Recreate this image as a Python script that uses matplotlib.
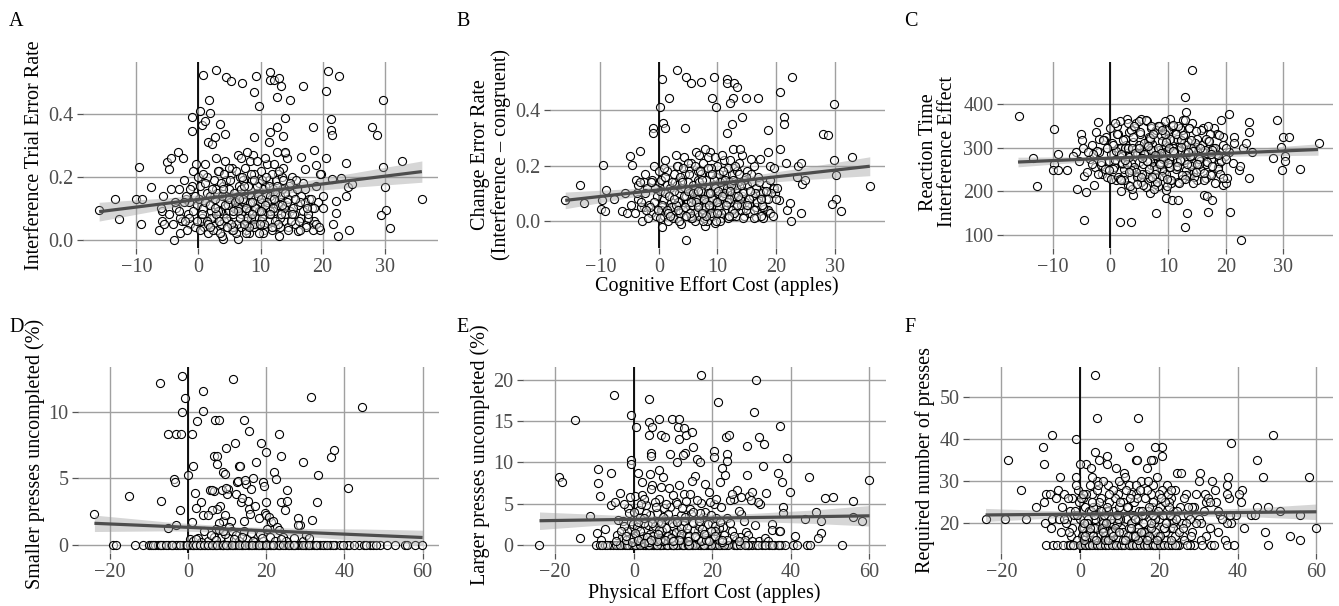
import numpy as np
import matplotlib
matplotlib.use("Agg")
import matplotlib.pyplot as plt

plt.rcParams['font.family'] = ['Liberation Serif', 'DejaVu Serif']
plt.rcParams['axes.unicode_minus'] = True

# ---------------- Panel A: interference trial error rate ----------------
a_x = [-16.0, -13.5, -12.8, -10.0, -9.6, -9.2, -9.1, -7.6, -6.4, -5.7,
       -5.1, -4.7, -4.4, -3.9, -1.1, -1.0, 0.75, 0.2, 0.6, 1.0,
       1.7, 1.9, 1.5, 2.2, 2.8, 3.5, 2.7, 4.3, 4.5, 5.2,
       7.0, 9.3, 8.9, 9.7, 8.9, 11.6, 11.5, 12.1, 13.0, 13.3,
       12.6, 12.6, 11.5, 11.3, 13.6, 14.0, 14.7, 16.8, 18.5, 18.6,
       20.8, 20.6, 21.4, 21.3, 21.5, 22.7, 28.0, 28.8, 29.7, 29.7,
       32.8, 30.1, 30.2, 29.4, 30.9, 36.0, 24.3, 22.5, 21.7, 22.2,
       22.1, 21.6, 23.8, 23.0, 24.1, 23.8, 24.7, 19.6, 13.0, 6.4,
       3.9, 16.5, 17.2, 19.0, 19.8, 20.5, 17.3, 18.5, 18.4, 16.0,
       -3.3, -2.5, -4.5, -5.8, -5.9, -6.0, -2.0, -1.5, -0.4, 13.9,
       -3.2, -2.6, -2.0, -1.4, -0.8, -0.3, 0.3, 0.9, 1.4, 2.0,
       2.5, 3.0, 3.4, 3.9, 4.3, 4.8, 5.2, 5.7, 6.1, 6.6,
       7.0, 7.5, 7.9, 8.4, 8.8, 9.3, 9.7, 10.2, 10.6, 11.1,
       11.5, 12.0, 12.4, 12.9, 13.3, 13.8, 14.2, 14.7, 15.1, 15.6,
       16.0, 16.5, 16.9, 17.4, 17.8, 18.3, 18.7, 19.2, 19.6, 20.1,
       -4.1, -3.6, -2.9, -2.3, -1.7, -1.1, -0.5, 0.1, 0.6, 1.1,
       1.7, 2.3, 2.8, 3.3, 3.8, 4.4, 4.9, 5.4, 6.0, 6.4,
       6.9, 7.3, 7.8, 8.2, 8.7, 9.1, 9.6, 10.0, 10.5, 10.9,
       11.4, 11.8, 12.3, 12.7, 13.2, 13.6, 14.1, 14.5, 15.0, 15.4,
       15.9, 16.3, 16.8, 17.2, 17.7, 18.1, 18.6, 19.0, 19.5, 20.0,
       0.2, 0.8, 1.3, 1.9, 2.4, 2.9, 3.5, 4.0, 4.6, 5.1,
       5.6, 6.2, 6.7, 7.2, 7.7, 8.3, 8.8, 9.4, 9.9, 10.4,
       10.8, 11.3, 11.7, 12.2, 12.6, 13.1, 13.5, 14.0, 14.4, 14.9,
       2.1, 3.2, 4.1, 5.0, 5.8, 6.8, 7.6, 8.5, 9.2, 10.1,
       1.0, 2.6, 3.6, 4.7, 5.5, 6.5, 7.4, 8.1, 9.0, 9.8,
       -5.5, -4.8, -3.0, -1.9, -0.9, 0.4, 1.6, 11.0, 12.8, 14.6,
       3.0, 4.5, 6.3, 7.1, 8.0, 8.9, 10.3, 11.6, 12.5, 13.4,
       5.4, 6.9, 7.9, 9.5, 10.7, 12.1, 13.9, 15.3, 16.6, 17.6]
a_y = [0.095, 0.13, 0.066, 0.13, 0.233, 0.05, 0.128, 0.167, 0.03, 0.14,
       0.247, 0.225, 0.26, 0.0, 0.39, 0.347, 0.525, 0.41, 0.367, 0.38,
       0.446, 0.405, 0.313, 0.305, 0.541, 0.37, 0.327, 0.337, 0.52, 0.505,
       0.50, 0.523, 0.472, 0.428, 0.327, 0.536, 0.51, 0.51, 0.517, 0.49,
       0.456, 0.36, 0.345, 0.313, 0.33, 0.387, 0.446, 0.49, 0.36, 0.286,
       0.537, 0.474, 0.384, 0.35, 0.334, 0.522, 0.36, 0.333, 0.446, 0.233,
       0.25, 0.167, 0.095, 0.079, 0.036, 0.129, 0.031, 0.012, 0.05, 0.084,
       0.124, 0.193, 0.244, 0.198, 0.169, 0.14, 0.177, 0.031, 0.012, 0.001,
       0.001, 0.265, 0.225, 0.237, 0.21, 0.26, 0.045, 0.05, 0.03, 0.027,
       0.28, 0.26, 0.16, 0.09, 0.06, 0.10, 0.13, 0.12, 0.24, 0.277,
       0.16, 0.06, 0.14, 0.05, 0.22, 0.11, 0.17, 0.04, 0.15, 0.09,
       0.19, 0.03, 0.12, 0.08, 0.25, 0.06, 0.21, 0.13, 0.02, 0.17,
       0.09, 0.23, 0.05, 0.14, 0.27, 0.07, 0.18, 0.11, 0.03, 0.24,
       0.08, 0.16, 0.04, 0.21, 0.12, 0.06, 0.26, 0.09, 0.15, 0.05,
       0.11, 0.07, 0.18, 0.04, 0.13, 0.10, 0.06, 0.12, 0.21, 0.14,
       0.05, 0.10, 0.02, 0.12, 0.08, 0.17, 0.04, 0.13, 0.07, 0.24,
       0.11, 0.05, 0.16, 0.22, 0.01, 0.14, 0.09, 0.03, 0.12, 0.27,
       0.04, 0.15, 0.11, 0.02, 0.19, 0.13, 0.05, 0.22, 0.08, 0.14,
       0.19, 0.03, 0.10, 0.15, 0.07, 0.23, 0.11, 0.04, 0.20, 0.08,
       0.16, 0.03, 0.09, 0.12, 0.07, 0.13, 0.10, 0.05, 0.04, 0.10,
       0.03, 0.10, 0.20, 0.14, 0.07, 0.26, 0.09, 0.17, 0.04, 0.12,
       0.08, 0.05, 0.20, 0.10, 0.03, 0.25, 0.09, 0.15, 0.12, 0.02,
       0.17, 0.06, 0.13, 0.09, 0.28, 0.04, 0.16, 0.08, 0.13, 0.06,
       0.07, 0.09, 0.06, 0.16, 0.10, 0.08, 0.06, 0.07, 0.10, 0.06,
       0.12, 0.13, 0.05, 0.11, 0.04, 0.11, 0.12, 0.09, 0.04, 0.09,
       0.05, 0.08, 0.07, 0.03, 0.09, 0.06, 0.02, 0.10, 0.11, 0.17,
       0.15, 0.19, 0.14, 0.19, 0.17, 0.21, 0.19, 0.14, 0.19, 0.20,
       0.23, 0.26, 0.28, 0.25, 0.26, 0.24, 0.28, 0.10, 0.14, 0.08]

# extra participants of the dense cognitive-cost cluster (shared by A, B, C)
cog_x_more = [0.5, 1.1, 1.8, 2.4, 3.1, 3.8, 4.4, 5.1, 5.8, 6.4,
              7.1, 7.8, 8.4, 9.1, 9.8, 10.4, 11.1, 11.8, 12.4, 13.1,
              13.8, 14.4, 15.1, 15.8, 16.4, -1.6, -2.4, -0.6, 0.0, 17.1,
              1.4, 2.2, 2.9, 3.6, 4.2, 4.9, 5.6, 6.3, 6.9, 7.6,
              8.3, 8.9, 9.6, 10.3, 10.9, 11.6, 12.3, 12.9, 13.6, 14.3,
              0.8, 1.6, 3.4, 4.1, 5.3, 6.1, 6.7, 7.4, 8.1, 8.7,
              9.4, 10.1, 10.6, 11.3, 12.0, 12.6, 13.3, 14.0, 15.5, 16.2,
              -3.8, -3.1, -2.2, -1.3, -0.2, 2.6, 5.0, 7.3, 9.9, 12.2,
              4.6, 5.9, 7.0, 8.6, 10.8, 11.9, 13.0, 14.8, 17.5, 18.9,
              1.9, 3.3, 4.0, 5.5, 6.6, 7.7, 9.0, 10.0, 11.5, 13.5]
a_y_more = [0.08, 0.18, 0.11, 0.03, 0.22, 0.14, 0.07, 0.19, 0.15, 0.10,
            0.13, 0.07, 0.21, 0.10, 0.02, 0.16, 0.12, 0.21, 0.06, 0.14,
            0.10, 0.03, 0.08, 0.19, 0.12, 0.07, 0.19, 0.14, 0.20, 0.16,
            0.06, 0.16, 0.08, 0.18, 0.11, 0.23, 0.03, 0.09, 0.16, 0.02,
            0.12, 0.05, 0.14, 0.07, 0.20, 0.09, 0.15, 0.05, 0.19, 0.12,
            0.21, 0.05, 0.02, 0.21, 0.05, 0.22, 0.07, 0.17, 0.04, 0.12,
            0.17, 0.13, 0.05, 0.17, 0.10, 0.17, 0.08, 0.15, 0.13, 0.06,
            0.12, 0.09, 0.06, 0.16, 0.06, 0.10, 0.13, 0.05, 0.05, 0.13,
            0.04, 0.12, 0.20, 0.08, 0.11, 0.04, 0.22, 0.18, 0.10, 0.17,
            0.04, 0.06, 0.16, 0.09, 0.13, 0.10, 0.19, 0.09, 0.08, 0.11]
b_y_more = [0.06, 0.16, 0.09, 0.01, 0.20, 0.12, 0.05, 0.17, 0.13, 0.08,
            0.11, 0.05, 0.19, 0.08, 0.00, 0.14, 0.10, 0.19, 0.04, 0.12,
            0.08, 0.01, 0.06, 0.17, 0.10, 0.05, 0.17, 0.12, 0.18, 0.14,
            0.04, 0.14, 0.06, 0.16, 0.09, 0.21, 0.01, 0.07, 0.14, 0.00,
            0.10, 0.03, 0.12, 0.05, 0.18, 0.07, 0.13, 0.03, 0.17, 0.10,
            0.19, 0.03, 0.00, 0.19, 0.03, 0.20, 0.05, 0.15, 0.02, 0.10,
            0.15, 0.11, 0.03, 0.15, 0.08, 0.15, 0.06, 0.13, 0.11, 0.04,
            0.10, 0.07, 0.04, 0.14, 0.04, 0.08, 0.11, 0.03, 0.03, 0.11,
            0.02, 0.10, 0.18, 0.06, 0.09, 0.02, 0.20, 0.16, 0.08, 0.15,
            0.02, 0.04, 0.14, 0.07, 0.11, 0.08, 0.17, 0.07, 0.06, 0.09]
c_y_more = [250, 330, 285, 225, 355, 300, 245, 335, 310, 270,
            295, 240, 350, 275, 212, 320, 290, 348, 238, 305,
            280, 220, 262, 340, 295, 268, 335, 300, 345, 315,
            232, 318, 262, 340, 288, 360, 215, 270, 322, 205,
            298, 236, 312, 255, 352, 266, 318, 228, 345, 292,
            355, 228, 212, 350, 232, 362, 250, 330, 222, 288,
            330, 300, 225, 332, 272, 328, 262, 318, 300, 242,
            290, 262, 240, 318, 248, 272, 298, 232, 228, 302,
            218, 286, 348, 262, 292, 220, 362, 338, 285, 328,
            226, 244, 324, 276, 304, 282, 340, 265, 258, 290]

# ---------------- Panel B: change error rate ----------------
b_x = [-16.0, -13.4, -12.8, -9.6, -9.9, -9.2, -9.1, -9.7, -7.6, -4.9,
       -4.6, -3.3, 0.5, 0.2, -1.0, -1.0, 0.7, 1.1, 1.8, 3.0,
       4.4, 4.7, 5.4, 7.1, 9.4, 9.1, 9.8, 11.6, 11.6, 12.9,
       13.4, 12.6, 12.1, 12.5, 11.6, 14.1, 14.8, 16.9, 18.6, 20.6,
       21.3, 21.3, 20.6, 22.7, 28.0, 28.9, 29.9, 29.9, 33.0, 30.3,
       30.3, 29.6, 31.1, 36.1, 24.3, 22.6, 21.9, 22.3, 4.7, 0.6,
       7.8, 9.6, 20.5, 23.7, 24.2, 23.5, 24.4, 24.9, 21.7, 19.0,
       18.7, 17.3, 16.3, 15.8, 17.8, 16.5, 17.0, 18.3, 19.4, 19.8,
       18.0, 18.4, 19.6, -5.8, -6.3, -4.0, -3.5, -2.5, -1.2, 0.0,
       -3.2, -2.6, -2.0, -1.4, -0.8, -0.3, 0.3, 0.9, 1.4, 2.0,
       2.5, 3.0, 3.4, 3.9, 4.3, 4.8, 5.2, 5.7, 6.1, 6.6,
       7.0, 7.5, 7.9, 8.4, 8.8, 9.3, 9.7, 10.2, 10.6, 11.1,
       11.5, 12.0, 12.4, 12.9, 13.3, 13.8, 14.2, 14.7, 15.1, 15.6,
       16.0, 16.5, 16.9, 17.4, 17.8, 18.3, 18.7, 19.2, 19.6, 20.1,
       -4.1, -3.6, -2.9, -2.3, -1.7, -1.1, -0.5, 0.1, 0.6, 1.1,
       1.7, 2.3, 2.8, 3.3, 3.8, 4.4, 4.9, 5.4, 6.0, 6.4,
       6.9, 7.3, 7.8, 8.2, 8.7, 9.1, 9.6, 10.0, 10.5, 10.9,
       11.4, 11.8, 12.3, 12.7, 13.2, 13.6, 14.1, 14.5, 15.0, 15.4,
       15.9, 16.3, 16.8, 17.2, 17.7, 18.3, 18.6, 19.0, 19.5, 20.0,
       0.2, 0.8, 1.3, 1.9, 2.4, 2.9, 3.5, 4.0, 4.6, 5.1,
       5.6, 6.2, 6.7, 7.2, 7.7, 8.3, 8.8, 9.4, 9.9, 10.4,
       10.8, 11.3, 11.7, 12.2, 12.6, 13.1, 13.5, 14.0, 14.4, 14.9,
       2.1, 3.2, 4.1, 5.0, 5.8, 6.8, 7.6, 8.5, 9.2, 10.1,
       1.0, 2.6, 3.6, 4.7, 5.5, 6.5, 7.4, 8.1, 9.0, 9.8,
       -5.5, -4.8, -3.0, -1.9, -0.9, 0.4, 1.6, 11.0, 12.8, 14.6,
       3.0, 4.5, 6.3, 7.1, 8.0, 8.9, 10.3, 11.6, 12.5, 13.4,
       5.4, 6.9, 7.9, 9.5, 10.7, 12.1, 13.9, 15.3, 16.6, 17.6]
b_y = [0.075, 0.131, 0.067, 0.203, 0.043, 0.035, 0.113, 0.075, 0.08, 0.234,
       0.203, 0.252, 0.513, 0.41, 0.334, 0.318, 0.352, 0.334, 0.445, 0.543,
       0.334, 0.519, 0.497, 0.501, 0.519, 0.443, 0.413, 0.511, 0.499, 0.499,
       0.485, 0.445, 0.427, 0.35, 0.316, 0.376, 0.443, 0.445, 0.328, 0.466,
       0.377, 0.35, 0.26, 0.52, 0.314, 0.312, 0.424, 0.222, 0.233, 0.168,
       0.079, 0.063, 0.036, 0.127, 0.03, 0.002, 0.039, 0.066, -0.066, -0.02,
       -0.017, -0.006, 0.075, 0.2, 0.21, 0.16, 0.135, 0.15, 0.21, 0.2,
       0.25, 0.225, 0.2, 0.225, 0.01, 0.015, 0.1, 0.13, 0.115, 0.1,
       0.045, 0.035, 0.12, 0.10, 0.035, 0.15, 0.13, 0.14, 0.14, 0.14,
       0.14, 0.05, 0.12, 0.03, 0.20, 0.09, 0.15, 0.02, 0.13, 0.07,
       0.17, 0.01, 0.10, 0.06, 0.23, 0.04, 0.19, 0.11, 0.00, 0.15,
       0.07, 0.21, 0.03, 0.12, 0.25, 0.05, 0.16, 0.09, 0.01, 0.22,
       0.06, 0.14, 0.02, 0.19, 0.10, 0.04, 0.24, 0.07, 0.13, 0.03,
       0.09, 0.05, 0.16, 0.02, 0.11, 0.08, 0.04, 0.10, 0.19, 0.12,
       0.03, 0.08, 0.00, 0.10, 0.06, 0.15, 0.02, 0.11, 0.05, 0.22,
       0.09, 0.03, 0.14, 0.20, -0.01, 0.12, 0.07, 0.01, 0.10, 0.25,
       0.02, 0.13, 0.09, 0.00, 0.17, 0.11, 0.03, 0.20, 0.06, 0.12,
       0.17, 0.01, 0.08, 0.13, 0.05, 0.21, 0.09, 0.02, 0.18, 0.06,
       0.14, 0.01, 0.07, 0.10, 0.05, 0.11, 0.08, 0.03, 0.02, 0.08,
       0.01, 0.08, 0.18, 0.12, 0.05, 0.24, 0.07, 0.15, 0.02, 0.10,
       0.06, 0.03, 0.18, 0.08, 0.01, 0.23, 0.07, 0.13, 0.10, 0.00,
       0.15, 0.04, 0.11, 0.07, 0.26, 0.02, 0.14, 0.06, 0.11, 0.04,
       0.05, 0.07, 0.04, 0.14, 0.08, 0.06, 0.04, 0.05, 0.08, 0.04,
       0.10, 0.11, 0.03, 0.09, 0.02, 0.09, 0.10, 0.07, 0.02, 0.07,
       0.03, 0.06, 0.05, 0.01, 0.07, 0.04, 0.00, 0.08, 0.09, 0.15,
       0.13, 0.17, 0.12, 0.17, 0.15, 0.19, 0.17, 0.12, 0.17, 0.18,
       0.21, 0.24, 0.26, 0.23, 0.24, 0.22, 0.26, 0.08, 0.12, 0.06]

# ---------------- Panel C: reaction time interference effect ----------------
c_x = [-15.9, -13.4, -12.7, -9.7, -9.8, -9.9, -9.1, -9.1, -7.5, -5.1,
       -4.9, -4.5, -4.6, -4.3, -5.8, -2.2, 1.7, 3.6, 1.8, 7.9,
       13.0, 13.3, 12.9, 13.2, 14.2, 16.9, 20.8, 22.7, 20.6, 19.1,
       24.1, 24.0, 24.0, 28.2, 28.9, 29.9, 31.0, 29.5, 30.2, 30.3,
       29.8, 32.9, 36.1, 9.7, 9.7, 6.9, 4.0, 10.7, 11.7, 16.2,
       16.8, 17.7, 18.2, 19.5, 20.1, 20.2, 22.3, 22.4, -5.9, -6.5,
       21.4, 21.5, 21.3, 20.5, 23.0, 24.5, 23.5, 18.0, 18.5, 19.5,
       16.0, 17.0, 17.3, 15.5, 16.5, 17.5, 18.8, 19.9, 18.6, 17.2,
       16.5, 15.0, 14.3, 13.5,
       -3.2, -2.6, -2.0, -1.4, -0.8, -0.3, 0.3, 0.9, 1.4, 2.0,
       2.5, 3.0, 3.4, 3.9, 4.3, 4.8, 5.2, 5.7, 6.1, 6.6,
       7.0, 7.5, 7.9, 8.4, 8.8, 9.3, 9.7, 10.2, 10.6, 11.1,
       11.5, 12.0, 12.4, 12.9, 13.3, 13.8, 14.2, 14.7, 15.1, 15.6,
       16.0, 16.5, 16.9, 17.4, 17.8, 18.3, 18.7, 19.2, 19.6, 20.1,
       -4.1, -3.6, -2.9, -2.3, -1.7, -1.1, -0.5, 0.1, 0.6, 1.1,
       1.7, 2.3, 2.8, 3.3, 3.8, 4.4, 4.9, 5.4, 6.0, 6.4,
       6.9, 7.3, 7.8, 8.2, 8.7, 9.1, 9.6, 10.0, 10.5, 10.9,
       11.4, 11.8, 12.3, 12.7, 13.2, 13.6, 14.1, 14.5, 15.0, 15.4,
       15.9, 16.3, 16.8, 17.2, 17.7, 18.1, 18.6, 19.0, 19.5, 20.0,
       0.2, 0.8, 1.3, 1.9, 2.4, 2.9, 3.5, 4.0, 4.6, 5.1,
       5.6, 6.2, 6.7, 7.2, 7.7, 8.3, 8.8, 9.4, 9.9, 10.4,
       10.8, 11.3, 11.7, 12.2, 12.6, 13.1, 13.5, 14.0, 14.4, 14.9,
       2.1, 3.2, 4.1, 5.0, 5.8, 6.8, 7.6, 8.5, 9.2, 10.1,
       1.0, 2.6, 3.6, 4.7, 5.5, 6.5, 7.4, 8.1, 9.0, 9.8,
       -5.5, -4.8, -3.0, -1.9, -0.9, 0.4, 1.6, 11.0, 12.8, 14.6,
       3.0, 4.5, 6.3, 7.1, 8.0, 8.9, 10.3, 11.6, 12.5, 13.4,
       5.4, 6.9, 7.9, 9.5, 10.7, 12.1, 13.9, 15.3, 16.6, 17.6]
c_y = [371, 277, 213, 343, 262, 248, 248, 286, 248, 331,
       317, 135, 234, 198, 206, 359, 130, 130, 202, 151,
       119, 151, 416, 382, 476, 153, 153, 90, 376, 362,
       359, 336, 230, 277, 362, 324, 323, 302, 281, 270,
       249, 252, 311, 204, 185, 196, 192, 181, 181, 192,
       189, 181, 220, 215, 220, 230, 249, 257, 290, 280,
       325, 310, 265, 290, 300, 290, 310, 345, 330, 305,
       345, 350, 330, 270, 270, 275, 265, 280, 255, 240,
       230, 225, 245, 235,
       305, 255, 290, 240, 325, 270, 310, 225, 300, 262,
       320, 215, 285, 250, 345, 235, 330, 280, 210, 315,
       260, 335, 230, 295, 350, 245, 320, 275, 220, 340,
       255, 310, 228, 330, 285, 240, 355, 265, 305, 250,
       290, 262, 315, 238, 300, 285, 250, 270, 325, 300,
       245, 275, 215, 292, 260, 318, 232, 285, 255, 350,
       278, 238, 305, 335, 205, 300, 268, 222, 290, 360,
       230, 308, 275, 212, 328, 295, 240, 340, 262, 300,
       330, 222, 272, 310, 248, 345, 282, 232, 320, 262,
       305, 225, 268, 290, 258, 300, 282, 240, 230, 275,
       228, 272, 330, 298, 252, 365, 265, 312, 232, 288,
       262, 240, 325, 280, 218, 348, 268, 305, 292, 225,
       318, 252, 295, 270, 362, 238, 312, 258, 298, 245,
       265, 278, 255, 305, 282, 270, 258, 262, 280, 255,
       292, 298, 248, 288, 240, 290, 295, 280, 248, 285,
       270, 300, 285, 320, 250, 305, 360, 288, 272, 310,
       300, 355, 305, 345, 340, 315, 365, 320, 340, 290,
       365, 318, 250, 360, 350, 345, 300, 275, 320, 295]

# ---------------- Panel D: smaller presses uncompleted (%) ----------------
d_x = [-24.1, -15.1, -7.2, -7.0, -1.7, -0.7, -1.5, -5.1, -3.2, -1.9,
       1.0, -3.7, -3.5, -2.1, -3.0, -5.1, 0.0, 1.3, 1.1, 1.8,
       2.3, 3.7, 3.8, 3.4, 3.8, 2.0, 6.8, 7.9, 6.7, 7.4,
       7.5, 5.7, 6.5, 8.1, 7.4, 8.8, 9.3, 9.7, 10.2, 10.0,
       11.5, 12.0, 13.1, 12.6, 13.4, 12.2, 14.4, 15.6, 14.8, 16.0,
       15.6, 15.2, 16.7, 17.4, 18.6, 19.9, 19.2, 19.5, 20.0, 19.7,
       23.3, 23.8, 22.0, 22.5, 23.7, 24.8, 25.4, 25.4, 29.3, 28.2,
       28.5, 31.4, 33.2, 32.9, 31.8, 36.6, 37.2, 44.4, 41.0, 6.2,
       8.6, 9.8, 11.0, 12.8, 13.3, 13.7, 14.2, 14.5, 15.8, 17.0,
       18.0, 19.8, 20.6, 21.2, 21.8, 22.8, 9.0, 9.5, 10.5, 8.0,
       6.0, 7.0, 5.0,
       0.4, 1.2, 2.6, 4.0, 5.2, 7.8, 8.5, 10.2, 11.3, 12.3,
       13.1, 14.2, 15.1, 16.2, 17.2, 18.3, 19.1, 21.0, 22.1, 23.2,
       24.3, 25.1, 27.2, 28.0, 29.4, 30.2, 31.0, 3.3, 6.5, 9.4,
       2.0, 5.8, 7.2, 9.0, 11.8, 13.8, 16.6, 18.8, 20.2, 23.8,
       -19.2, -18.4, -13.7, -11.5, -10.1, -9.4, -8.4, -7.7, -6.4, -5.1,
       -3.8, -2.6, -1.3, -0.6, 0.5, 1.6, 2.4, 3.5, 4.4, 5.6,
       6.3, 7.1, 8.2, 9.0, 9.9, 10.8, 11.6, 12.5, 13.4, 14.1,
       15.2, 16.0, 16.8, 17.9, 18.6, 19.5, 20.4, 21.3, 22.0, 22.9,
       23.6, 24.7, 25.5, 26.3, 27.4, 28.1, 28.9, 29.8, 30.6, 31.5,
       32.2, 33.0, 33.8, 35.0, 36.3, 37.6, 38.9, 40.6, 43.6, 44.9,
       46.6, 47.4, 49.1, 50.9, 53.0, 55.6, 56.0, 58.1, 59.8, -9.0,
       -7.2, -4.5, -3.2, 1.0, 2.9, 4.9, 6.8, 8.6, 10.3, 12.0,
       13.9, 15.6, 17.3, 19.0, 20.9, 23.2, 26.8, 30.1, 34.5, 37.1,
       41.2, 45.5, 48.0, -6.9, -5.6, -4.2, -2.0, -0.2, 1.3, 2.0,
       3.0, 4.0, 5.2, 6.0, 7.5, 8.8, 9.6, 11.2, 12.9, 14.6,
       16.4, 18.1, 19.8, 21.7, 24.2, 25.9, 27.0, 29.3, 31.0, 32.6,
       35.6, 39.6, 42.5]
d_y = [2.28, 3.68, 12.2, 3.3, 12.7, 11.07, 9.97, 8.32, 8.32, 8.32,
       8.32, 4.97, 4.7, 2.64, 1.47, 1.27, 5.28, 5.91, 1.67, 3.9,
       9.3, 11.6, 10.1, 3.2, 2.2, 2.77, 9.37, 9.37, 6.65, 6.65,
       6.07, 4.14, 4.0, 2.94, 2.7, 5.48, 5.3, 7.31, 4.2, 3.8,
       12.5, 7.69, 5.91, 4.72, 3.2, 3.8, 9.39, 8.58, 4.6, 4.2,
       2.7, 3.25, 5.0, 6.24, 7.69, 7.0, 4.72, 4.39, 3.2, 2.4,
       8.32, 6.65, 5.5, 4.97, 3.2, 2.6, 4.14, 3.3, 6.24, 1.98,
       1.47, 11.1, 5.23, 3.2, 1.88, 6.6, 7.13, 10.36, 4.26, 4.1,
       4.1, 4.3, 1.8, 4.8, 5.9, 3.5, 1.8, 4.9, 2.3, 2.9,
       2.0, 2.2, 2.1, 1.7, 1.8, 1.3, 1.8, 2.2, 1.3, 1.6,
       2.6, 1.2, 2.2,
       0.4, 0.25, 0.5, 1.0, 0.3, 1.1, 0.6, 0.5, 1.0, 0.7,
       0.3, 1.0, 0.4, 0.9, 0.2, 0.8, 0.3, 0.6, 0.3, 1.1,
       0.6, 0.3, 0.5, 1.5, 0.3, 0.7, 0.5, 0.2, 0.6, 0.8,
       0.45, 0.7, 0.35, 1.0, 0.4, 0.6, 0.3, 0.5, 1.2, 0.4,
       0, 0, 0, 0, 0, 0, 0, 0, 0, 0,
       0, 0, 0, 0, 0, 0, 0, 0, 0, 0,
       0, 0, 0, 0, 0, 0, 0, 0, 0, 0,
       0, 0, 0, 0, 0, 0, 0, 0, 0, 0,
       0, 0, 0, 0, 0, 0, 0, 0, 0, 0,
       0, 0, 0, 0, 0, 0, 0, 0, 0, 0,
       0, 0, 0, 0, 0, 0, 0, 0, 0, 0,
       0, 0, 0, 0, 0, 0, 0, 0, 0, 0,
       0, 0, 0, 0, 0, 0, 0, 0, 0, 0,
       0, 0, 0, 0, 0, 0, 0, 0, 0, 0,
       0, 0, 0, 0, 0, 0, 0, 0, 0, 0,
       0, 0, 0, 0, 0, 0, 0, 0, 0, 0,
       0, 0, 0]

# ---------------- Panel E: larger presses uncompleted (%) ----------------
e_x = [-24.1, -19.0, -18.3, -14.9, -13.6, -11.1, -9.1, -9.1, -8.6, -9.3,
       -7.3, -8.4, -5.8, -5.8, -5.1, -0.8, -0.7, -0.8, 0.6, 1.2,
       2.2, 3.8, 3.8, 4.7, 3.8, 4.3, 4.5, 4.2, 4.7, 6.4,
       6.9, 7.9, 6.4, 7.5, 9.7, 11.6, 11.2, 9.2, 10.9, 11.6,
       12.9, 13.2, 14.7, 13.1, 12.6, 15.0, 16.0, 16.9, 17.0, 20.4,
       20.4, 21.5, 23.5, 24.2, 23.6, 23.6, 22.4, 23.2, 28.9, 28.9,
       31.1, 30.7, 31.9, 33.1, 33.0, 33.6, 32.1, 31.7, 36.8, 37.2,
       37.6, 39.1, 39.7, 38.1, 37.9, 44.6, 43.6, 46.3, 47.6, 47.6,
       46.8, 48.8, 50.8, 53.1, 55.7, 55.8, 58.2, 59.9, 41.0, 40.6,
       41.6, 44.2, 44.8, 35.1, 35.1, 36.9, 37.3, 27.3, 26.9, 28.0,
       25.5, 26.3, 27.4, 29.3, 30.2, 29.8, 24.6, 25.1, 28.6, 29.0,
       30.8, 32.0, 33.4, 34.2, 25.0, 26.0, 27.0, 28.2, 30.0,
       -9.7, -8.6, -7.4, -6.1, -5.2, -4.1, -3.0, -2.2, -1.1, 0.0,
       1.1, 2.3, 3.1, 4.4, 5.2, 6.3, 7.5, 8.2, 9.4, 10.3,
       11.4, 12.2, 13.5, 14.3, 15.1, 16.4, 17.2, 18.5, 19.3, 20.1,
       21.2, 22.0, 23.4, 25.6, 26.4, 28.7, 29.4, 30.2, 31.0, 32.6,
       34.3, 35.8, 36.6, 37.5, 38.6, -0.5, 0.6, 2.8, 4.9, 6.8,
       8.8, 10.8, 12.8, 14.8, 16.8, 18.8, 20.6, 22.5, 26.0, 29.0,
       31.6, 37.0, -6.8, -4.6, -3.6, -1.6, 0.3, 1.6, 3.6, 5.7,
       7.0, 8.5, 9.9, 11.0, 12.5, 13.9, 15.6, 17.7, 19.7, 21.6,
       24.0, 27.0, 28.2, 33.5, 35.2, -8.0, 4.0, 6.0, 10.0, 14.0,
       18.0, 23.0,
       -4.9, -4.2, -3.5, -2.8, -2.1, -1.4, -0.7, 0.2, 0.9, 1.6,
       2.3, 3.0, 3.7, 4.4, 5.1, 5.8, 6.5, 7.2, 7.9, 8.6,
       9.3, 10.0, 10.7, 11.4, 12.1, 12.8, 13.5, 14.2, 14.9, 15.6,
       16.3, 17.0, 17.7, 18.4, 19.1, 19.8, 20.5, 21.2, 21.9, 22.6,
       -3.9, -3.1, -2.4, -1.7, -1.0, -0.3, 0.5, 1.3, 2.0, 2.7,
       3.4, 4.1, 4.8, 5.5, 6.2, 6.9, 7.6, 8.3, 9.0, 9.7,
       10.4, 11.1, 11.8, 12.5, 13.2, 13.9, 14.6, 15.3, 16.0, 16.7,
       17.4, 18.1, 18.8, 19.5, 20.2, 20.9, 21.6, 22.3, 23.0, 23.7,
       0.8, 1.9, 3.1, 4.2, 5.3, 6.4, 7.5, 8.6, 9.7, 10.8,
       11.9, 13.0, 14.1, 15.2, 16.3, 17.4, 18.5, 19.6, 20.7, 21.8,
       -2.0, -0.2, 1.5, 3.3, 5.0, 6.7, 8.5, 10.2, 12.0, 13.7,
       15.5, 17.2, 19.0, 20.7, 22.5, 2.6, 7.0, 11.5, 14.8, 18.2,
       -2.5, -1.2, 0.4, 1.8, 3.3, 4.7, 6.0, 7.4, 8.8, 10.1,
       11.5, 12.8, 14.2, 15.6, 16.9, 18.3, 19.7, 21.0, 22.4, 23.8,
       0.0, 1.0, 2.5, 4.0, 5.6, 7.0, 8.2, 9.5, 11.0, 12.2,
       13.6, 15.0, 16.5, 17.8, 19.2, 20.6, 22.0, 24.5, 25.5, 26.8,
       -4.5, -3.3, -1.9, -0.5, 1.1, 2.6, 4.5, 6.1, 7.9, 9.9]
e_y = [0, 8.28, 7.6, 15.15, 0.8, 3.5, 9.17, 7.47, 5.86, 1.4,
       1.94, 0.6, 8.77, 4.77, 18.18, 15.76, 10.3, 9.78, 14.34, 8.69,
       7.6, 17.7, 14.95, 14.34, 13.33, 11.1, 10.83, 8.57, 7.27, 15.27,
       13.33, 13.05, 9.09, 8.28, 15.27, 15.27, 14.3, 11.0, 10.0, 12.9,
       14.14, 13.33, 13.74, 11.1, 10.9, 11.9, 10.38, 10.0, 20.65, 11.4,
       10.7, 17.37, 13.13, 13.33, 11.03, 10.18, 9.29, 8.48, 12.04, 8.48,
       20.0, 16.16, 13.13, 12.2, 9.6, 6.34, 4.97, 5.13, 8.77, 14.46,
       7.68, 10.59, 6.46, 4.57, 3.84, 8.28, 3.15, 3.96, 2.91, 1.41,
       0.81, 5.66, 5.78, 0, 5.33, 3.31, 2.83, 7.88, 1.01, 0,
       0, 0, 0, 2.5, 1.82, 1.62, 1.6, 3.7, 4.1, 2.9,
       5.5, 6.6, 5.8, 5.9, 6.4, 5.4, 5.4, 6.2, 1.5, 1.2,
       2.4, 0.4, 0.8, 0.4, 1.6, 0.5, 0.9, 0.5, 0.4,
       0, 0, 0, 0, 0, 0, 0, 0, 0, 0,
       0, 0, 0, 0, 0, 0, 0, 0, 0, 0,
       0, 0, 0, 0, 0, 0, 0, 0, 0, 0,
       0, 0, 0, 0, 0, 0, 0, 0, 0, 0,
       0, 0, 0, 0, 0, 0, 0, 0, 0, 0,
       0, 0, 0, 0, 0, 0, 0, 0, 0, 0,
       0, 0, 0, 0, 0, 0, 0, 0, 0, 0,
       0, 0, 0, 0, 0, 0, 0, 0, 0, 0,
       0, 0, 0, 0, 0, 0, 0, 0, 0, 0,
       0, 0,
       5.2, 1.2, 6.3, 2.9, 0.6, 4.4, 1.9, 5.9, 0.4, 3.4,
       1.1, 4.8, 2.4, 6.8, 0.7, 3.9, 5.6, 1.6, 3.1, 0.5,
       4.6, 2.2, 5.2, 0.9, 3.6, 6.1, 1.4, 4.3, 2.8, 8.4,
       1.7, 5.1, 3.3, 0.8, 6.4, 2.6, 4.9, 1.3, 7.6, 2.1,
       3.0, 0.9, 4.9, 1.6, 5.8, 2.5, 1.0, 4.2, 6.0, 2.6,
       0.5, 3.6, 1.9, 5.2, 2.7, 0.8, 4.5, 2.0, 6.9, 1.3,
       3.1, 4.9, 0.6, 2.4, 5.3, 0.9, 3.7, 1.8, 5.4, 2.2,
       0.6, 4.0, 2.5, 5.2, 0.9, 3.2, 2.0, 4.6, 1.2, 0.5,
       2.1, 0.7, 3.9, 1.3, 2.2, 1.8, 0.4, 3.7, 2.6, 1.5,
       2.0, 3.4, 1.1, 2.6, 0.7, 1.9, 1.2, 3.6, 2.3, 0.6,
       0.5, 0.8, 1.6, 0.9, 1.1, 0.5, 1.0, 0.6, 1.3, 0.4,
       0.9, 0.4, 0.6, 1.7, 0.3, 5.5, 7.0, 7.3, 7.7, 7.4,
       2.3, 3.8, 1.4, 5.0, 0.9, 2.6, 0.4, 3.3, 1.1, 6.0,
       0.5, 2.9, 6.2, 1.0, 3.8, 0.5, 1.6, 5.6, 0.6, 3.2,
       4.0, 2.7, 3.2, 0.3, 4.6, 2.6, 5.0, 0.8, 2.8, 4.4,
       2.0, 4.0, 2.9, 1.3, 0.4, 1.0, 2.8, 2.6, 1.1, 0.4,
       0.4, 1.6, 1.0, 0.3, 0.5, 0.2, 0.6, 1.3, 0.5, 0.4]

# ---------------- Panel F: required number of presses ----------------
f_x = [-23.9, -19.0, -18.3, -14.9, -13.7, -11.2, -9.5, -9.1, -9.1, -9.0,
       -8.7, -7.6, -7.1, -7.1, -7.3, -8.6, -7.0, -5.1, -5.6, -1.0,
       3.8, 4.3, 14.8, 3.8, 4.8, 49.0, 38.2, 44.8, 46.5, 58.1,
       47.7, 44.8, 50.8, 55.9, 60.0, 53.2, 55.7, 47.0, 47.7, 41.1,
       40.4, 40.8, 41.6, 39.7, 43.5, 44.3, 37.6, 37.8, 37.3, 37.2,
       38.0, 38.2, 37.3, 36.7, 37.3, 39.0, 33.4, 34.2, 32.9, 31.9,
       33.3, 33.9, 30.4, 30.2, 31.7, 31.9, 30.2, 30.8, 30.6, 28.9,
       28.3, 29.0, 28.0, 24.7, 25.5, 24.1, 23.2, 25.3, 20.7, 19.0,
       20.9, 18.4, 17.9, 16.9, 14.1, 14.5, 12.4, 6.9, 6.8, 1.4,
       0.0, -1.1, 2.8, 4.2, 35.5, 36.0, 34.5, 32.5, 29.5, 28.5,
       27.0, 26.5, 27.5, 26.0, 25.0, 31.0, 35.0, -6.0, -4.5, -4.0,
       -3.3, -2.5, -2.0, -3.0, -1.5, -4.8, -5.3,
       -0.5, 0.4, 1.2, 2.0, 2.9, 3.7, 4.5, 5.4, 6.2, 7.0,
       7.9, 8.7, 9.5, 10.4, 11.2, 12.0, 12.9, 13.7, 14.5, 15.4,
       16.2, 17.0, 17.9, 18.7, 19.5, 20.4, 21.2, 22.0, 22.9, 23.7,
       0.0, 0.8, 1.6, 2.5, 3.3, 4.1, 5.0, 5.8, 6.6, 7.5,
       8.3, 9.1, 10.0, 10.8, 11.6, 12.5, 13.3, 14.1, 15.0, 15.8,
       16.6, 17.5, 18.3, 19.1, 20.0, 20.8, 21.6, 22.5, 23.3, 24.1,
       1.0, 2.2, 3.0, 4.0, 5.2, 6.4, 7.3, 8.5, 9.8, 11.0,
       12.2, 13.5, 14.8, 16.0, 17.2, 18.5, 19.8, 21.0, 22.2, 23.5,
       0.6, 2.6, 4.6, 6.6, 8.6, 10.6, 12.6, 14.6, 16.6, 18.6,
       1.7, 3.5, 5.6, 7.7, 9.7, 11.7, 13.8, 15.8, 17.8, 19.8,
       20.8, 21.8, 22.8, 24.5, 26.5, -2.2, -0.8, 1.5, 3.8, 6.0,
       8.0, 10.2, 12.4, 14.6, 16.8, 19.0, 21.4, 23.6, 25.8, 27.8,
       -5.8, -4.4, -2.6, -1.8, 0.1, 1.3, 2.3, 3.0, 4.3, 5.0,
       6.3, 7.0, 8.2, 9.0, 10.4, 11.1, 12.3, 13.2, 14.3, 15.1,
       16.2, 17.1, 18.4, 19.0, 20.3, 21.3, 22.2, 23.4, 24.0, 27.1,
       -2.8, -1.6, -0.2, 1.5, 2.7, 4.4, 5.9, 7.2, 8.9, 10.3,
       11.8, 13.0, 14.3, 15.7, 17.1, 18.6, 19.9, 21.4, 22.6, 24.3,
       0.9, 2.4, 3.9, 5.5, 6.8, 8.1, 9.4, 10.9, 12.1, 13.4,
       14.7, 16.1, 17.4, 18.9, 20.3, 21.7, 23.1, 25.0, 26.8, 28.2,
       -3.5, -2.0, -0.9, 0.5, 1.9, 3.4, 4.9, 6.4, 7.9, 9.6,
       -1.2, 0.3, 1.8, 3.2, 4.6, 6.0, 7.4, 8.8, 10.2, 11.6,
       13.0, 14.4, 15.8, 17.2, 18.6, 20.0, 21.5, 23.0, 24.6, 26.2,
       0.7, 2.9, 5.3, 7.8, 10.0, 12.7, 15.2, 17.6, 20.6, 22.9,
       27.5, 29.3, 31.5, 33.0, 35.0, -4.2, -3.1, -1.0, 9.1, 11.4,
       1.2, 2.6, 4.0, 5.7, 7.1, 8.4, 9.9, 11.3, 12.8, 14.0,
       15.5, 16.9, 18.1, 19.4, 0.9, 3.6, 6.6, 9.3, 13.9, 18.0]
f_y = [21, 21, 35, 28, 21, 24, 38, 34, 25, 20,
       27, 27, 41, 21, 19, 15, 15, 31, 28, 40,
       55, 45, 45, 37, 35, 41, 39, 35, 31, 31,
       24, 24, 23, 22, 19, 17, 16, 18, 15, 28,
       27, 25, 19, 22, 22, 22, 31, 26, 29, 27,
       22, 20, 20, 16, 15, 15, 30, 28, 19, 17,
       15, 15, 32, 30, 27, 25, 21, 20, 16, 24,
       24, 15, 15, 32, 32, 28, 26, 24, 38, 38,
       36, 35, 35, 33, 35, 35, 38, 36, 34, 34,
       34, 31, 33, 30, 22, 21, 25, 26, 20, 18,
       27, 26, 22, 17, 15, 15, 23, 26, 24, 27,
       21, 23, 19, 15, 15, 18, 21,
       28, 17, 24, 20, 31, 15, 22, 26, 18, 29,
       16, 23, 27, 19, 32, 21, 15, 25, 18, 30,
       22, 17, 27, 20, 31, 24, 16, 29, 19, 23,
       21, 26, 15, 29, 19, 24, 17, 30, 23, 20,
       28, 18, 22, 25, 16, 29, 20, 27, 23, 17,
       26, 19, 24, 15, 21, 28, 18, 25, 21, 17,
       19, 23, 27, 16, 21, 17, 25, 21, 24, 18,
       24, 17, 21, 20, 23, 29, 17, 22, 27, 20,
       15, 15, 15, 15, 15, 15, 15, 15, 15, 15,
       15, 16, 15, 16, 15, 16, 15, 16, 15, 15,
       15, 16, 15, 15, 16, 17, 16, 18, 19, 19,
       20, 21, 19, 19, 18, 18, 19, 19, 20, 21,
       15, 15, 15, 15, 15, 15, 15, 15, 15, 15,
       15, 15, 15, 15, 15, 15, 15, 15, 15, 15,
       15, 15, 15, 15, 15, 15, 15, 15, 15, 15,
       18, 22, 25, 27, 23, 28, 20, 23, 26, 29,
       24, 27, 29, 22, 28, 25, 23, 19, 24, 21,
       16, 18, 21, 19, 24, 18, 20, 16, 17, 22,
       16, 18, 17, 21, 17, 20, 16, 18, 20, 17,
       20, 26, 22, 19, 21, 17, 25, 16, 18, 21,
       23, 26, 20, 24, 29, 22, 27, 19, 25, 28,
       20, 26, 23, 30, 22, 27, 25, 28, 23, 19,
       27, 25, 23, 21, 30, 26, 28, 24, 26, 22,
       24, 27, 23, 25, 18, 21, 26, 29, 33, 31,
       17, 19, 16, 18, 16, 17, 18, 16, 19, 17,
       18, 16, 19, 16, 20, 22, 20, 22, 21, 20]

# ---------------- Fitted lines and 95% bands ----------------
cog_fit_x = [-16, -5, 6, 15, 25, 36]
a_fit = [0.089, 0.116, 0.143, 0.165, 0.190, 0.217]
a_hw = [0.030, 0.017, 0.012, 0.015, 0.023, 0.034]
b_fit = [0.075, 0.101, 0.127, 0.148, 0.172, 0.198]
b_hw = [0.030, 0.016, 0.011, 0.014, 0.022, 0.034]
c_fit = [267.0, 273.0, 279.0, 284.0, 289.5, 295.5]
c_hw = [11.0, 6.0, 4.5, 5.5, 8.5, 13.0]
phys_fit_x = [-24, -5, 12, 30, 45, 60]
d_fit = [1.60, 1.36, 1.14, 0.91, 0.72, 0.53]
d_hw = [0.62, 0.33, 0.22, 0.30, 0.45, 0.55]
e_fit = [2.90, 3.04, 3.16, 3.29, 3.39, 3.50]
e_hw = [1.07, 0.55, 0.38, 0.50, 0.80, 1.25]
f_fit = [22.0, 22.17, 22.32, 22.48, 22.62, 22.75]
f_hw = [1.55, 0.80, 0.55, 0.70, 1.10, 1.85]

# tick labels
cog_xticks = [-10, 0, 10, 20, 30]
phys_xticks = [-20, 0, 20, 40, 60]
a_yticks = [0.0, 0.2, 0.4]
c_yticks = [100, 200, 300, 400]
d_yticks = [0, 5, 10]
e_yticks = [0, 5, 10, 15, 20]
f_yticks = [20, 30, 40, 50]

# ---------------- drawing ----------------
W, H = 1339, 606
fig = plt.figure(figsize=(W / 100, H / 100), dpi=100)
FS = 14.5
TICK_COL = '#4D4D4D'
GRID_COL = '#A0A0A0'


def px_rect(x0, x1, y0, y1):
    return [x0 / W, 1 - y1 / H, (x1 - x0) / W, (y1 - y0) / H]


def panel(rect, xs, ys, fx, fy, fhw, xlim, ylim, xticks, yticks, yfmt):
    ax = fig.add_axes(rect)
    ax.set_xlim(*xlim)
    ax.set_ylim(*ylim)
    for s in ax.spines.values():
        s.set_visible(False)
    ax.set_axisbelow(True)
    ax.grid(True, color=GRID_COL, lw=1.0)
    ax.set_xticks(xticks)
    ax.set_yticks(yticks)
    ax.set_yticklabels([yfmt(v) for v in yticks])
    ax.tick_params(axis='both', labelsize=FS, labelcolor=TICK_COL, color='#555555',
                   length=4, width=0.9, pad=3)
    ax.axvline(0, color='black', lw=1.3, zorder=1.5)
    ax.scatter(xs, ys, s=34, facecolors=(1, 1, 1, 0.5), edgecolors='black',
               linewidths=0.8, zorder=2)
    fx = np.asarray(fx, float)
    fy = np.asarray(fy, float)
    fhw = np.asarray(fhw, float)
    ax.fill_between(fx, fy - fhw, fy + fhw, color='#999999', alpha=0.4, lw=0, zorder=3)
    ax.plot(fx, fy, color='#4D4D4D', lw=2.3, zorder=4, solid_capstyle='butt')
    return ax


cog_xlim = (-18.6, 38.6)
phys_xlim = (-28.2, 64.2)

panel(px_rect(83, 438, 62, 248), a_x + cog_x_more, a_y + a_y_more, cog_fit_x, a_fit, a_hw,
      cog_xlim, (-0.027, 0.567), cog_xticks, a_yticks, lambda v: f"{v:.1f}")
panel(px_rect(550, 885, 62, 248), b_x + cog_x_more, b_y + b_y_more, cog_fit_x, b_fit, b_hw,
      cog_xlim, (-0.0965, 0.5735), cog_xticks, a_yticks, lambda v: f"{v:.1f}")
panel(px_rect(1003, 1333, 62, 248), c_x + cog_x_more, c_y + c_y_more, cog_fit_x, c_fit, c_hw,
      cog_xlim, (71, 495), cog_xticks, c_yticks, lambda v: f"{v:d}")
panel(px_rect(78, 439, 367, 553), d_x, d_y, phys_fit_x, d_fit, d_hw, phys_xlim,
      (-0.64, 13.39), phys_xticks, d_yticks, lambda v: f"{v:d}")
panel(px_rect(523, 886, 367, 553), e_x, e_y, phys_fit_x, e_fit, e_hw, phys_xlim,
      (-1.03, 21.63), phys_xticks, e_yticks, lambda v: f"{v:d}")
panel(px_rect(969, 1333, 367, 553), f_x, f_y, phys_fit_x, f_fit, f_hw, phys_xlim,
      (13, 57), phys_xticks, f_yticks, lambda v: f"{v:d}")


def ftext(x, y, s, **kw):
    fig.text(x / W, 1 - y / H, s, fontsize=FS, color='black', **kw)


# panel letters
ftext(9, 21, 'A', ha='left', va='center')
ftext(456, 22, 'B', ha='left', va='center')
ftext(904, 22, 'C', ha='left', va='center')
ftext(9, 328, 'D', ha='left', va='center')
ftext(456, 328, 'E', ha='left', va='center')
ftext(904, 328, 'F', ha='left', va='center')

# axis titles
ftext(35, 155, 'Interference Trial Error Rate', rotation=90, ha='center', va='center')
ftext(491, 155, 'Change Error Rate\n(Interference \u2013 congruent)', rotation=90,
      ha='center', va='center', multialignment='center', linespacing=1.05)
ftext(938, 152, 'Reaction Time\nInterference Effect', rotation=90,
      ha='center', va='center', multialignment='center', linespacing=1.05)
ftext(35, 454, 'Smaller presses uncompleted (%)', rotation=90, ha='center', va='center')
ftext(480, 455, 'Larger presses uncompleted (%)', rotation=90, ha='center', va='center')
ftext(925, 460, 'Required number of presses', rotation=90, ha='center', va='center')
ftext(717, 286, 'Cognitive Effort Cost (apples)', ha='center', va='center')
ftext(704, 593, 'Physical Effort Cost (apples)', ha='center', va='center')

fig.savefig('out.png', dpi=100)
